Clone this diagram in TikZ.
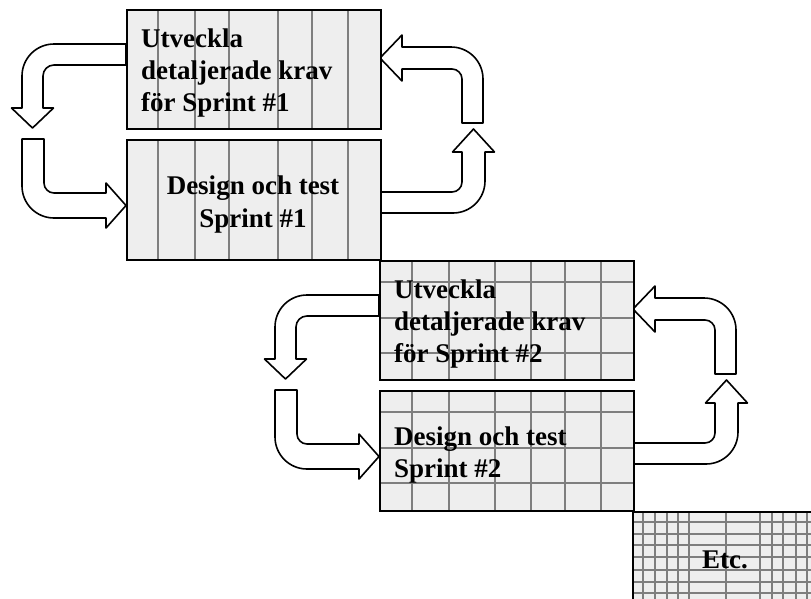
\documentclass[tikz,border=0pt]{standalone}
\usepackage{fontspec}
\setmainfont{Liberation Serif}
\definecolor{boxgray}{HTML}{EEEEEE}
\definecolor{gridgray}{HTML}{7E7E7E}
\tikzset{
  boxborder/.style={draw=black, line width=1.8pt, fill=none, inner sep=0pt, anchor=north west},
  gridline/.style={draw=gridgray, line width=1.1pt},
  blockarrow/.style={fill=white, draw=black, line width=1.6pt, line join=round},
  lbl/.style={font=\fontsize{27}{32}\selectfont\bfseries, inner sep=0pt},
}
\newcommand\looparrows{%
  % from requirements box down (left)
  \draw[blockarrow] (126,44) -- (54,44) .. controls (36.3,44) and (22,58.3) .. (22,76)
    -- (22,108) -- (11.5,108) -- (32.5,128) -- (53.5,108) -- (43,108) -- (43,76)
    .. controls (43,69.9) and (47.9,65) .. (54,65) -- (126,65) -- cycle;
  % down then right into design box
  \draw[blockarrow] (22,139) -- (22,186) .. controls (22,203.7) and (36.3,218) .. (54,218)
    -- (106,218) -- (106,228) -- (126,205.5) -- (106,183) -- (106,193) -- (54,193)
    .. controls (48.5,193) and (44,188.5) .. (44,183) -- (44,139) -- cycle;
  % from design box right then up
  \draw[blockarrow] (380,192) -- (452,192) .. controls (457.5,192) and (462,187.5) .. (462,182)
    -- (462,152) -- (452.5,152) -- (473.5,129) -- (494.5,152) -- (485,152) -- (485,181)
    .. controls (485,198.7) and (470.7,213) .. (453,213) -- (380,213) -- cycle;
  % up then left into requirements box
  \draw[blockarrow] (462,123) -- (462,79) .. controls (462,73.5) and (457.5,69) .. (452,69)
    -- (402,69) -- (402,81) -- (380,58) -- (402,35) -- (402,47) -- (451,47)
    .. controls (468.7,47) and (483,61.3) .. (483,79) -- (483,123) -- cycle;
}
\begin{document}
\begin{tikzpicture}[x=1pt,y=-1pt]
\useasboundingbox (0,0) rectangle (811,598);
\clip (0,0) rectangle (811,598);

% ---------- Sprint 1 ----------
\looparrows
\fill[boxgray] (126,9) rectangle (380,128);
\fill[boxgray] (126,139) rectangle (380,259);
\foreach \x in {32,69,103,152,186,222}{
  \draw[gridline] (126+\x,9) -- (126+\x,128);
  \draw[gridline] (126+\x,139) -- (126+\x,259);
}
\node[boxborder, minimum width=254pt, minimum height=119pt] (req1) at (126,9) {};
\node[boxborder, minimum width=254pt, minimum height=120pt] (des1) at (126,139) {};
\node[lbl, anchor=base west] (req1a) at (141,47) {Utveckla};
\node[lbl, anchor=base west] (req1b) at (141,79) {detaljerade krav};
\node[lbl, anchor=base west] (req1c) at (141,111) {för Sprint \#1};
\node[lbl, anchor=base] (des1a) at (253,194) {Design och test};
\node[lbl, anchor=base] (des1b) at (253,227) {Sprint \#1};

% ---------- Sprint 2 ----------
\begin{scope}[shift={(253,251)}]
\looparrows
\fill[boxgray] (126,9) rectangle (380,128);
\fill[boxgray] (126,139) rectangle (380,259);
\foreach \x in {33,70,116,152,186,222}{
  \draw[gridline] (126+\x,9) -- (126+\x,128);
  \draw[gridline] (126+\x,139) -- (126+\x,259);
}
\foreach \y in {22,58,93}{
  \draw[gridline] (126,9+\y) -- (380,9+\y);
  \draw[gridline] (126,139+\y) -- (380,139+\y);
}
\node[boxborder, minimum width=254pt, minimum height=119pt] (req2) at (126,9) {};
\node[boxborder, minimum width=254pt, minimum height=120pt] (des2) at (126,139) {};
\node[lbl, anchor=base west] (req2a) at (141,47) {Utveckla};
\node[lbl, anchor=base west] (req2b) at (141,79) {detaljerade krav};
\node[lbl, anchor=base west] (req2c) at (141,111) {för Sprint \#2};
\node[lbl, anchor=base west] (des2a) at (141,194) {Design och test};
\node[lbl, anchor=base west] (des2b) at (141,226) {Sprint \#2};
\end{scope}

% ---------- Etc. ----------
\fill[boxgray] (632,511) rectangle (830,620);
\foreach \x in {11,23,35,46,57,94,128,140,151,164,175}{
  \draw[gridline] (632+\x,511) -- (632+\x,620);
}
\foreach \y in {11,23,34,46,59,71,82}{
  \draw[gridline] (632,511+\y) -- (830,511+\y);
}
\node[boxborder, minimum width=198pt, minimum height=109pt] (etc) at (632,511) {};
\node[lbl, anchor=base] (etclbl) at (725,568) {Etc.};
\end{tikzpicture}
\end{document}
